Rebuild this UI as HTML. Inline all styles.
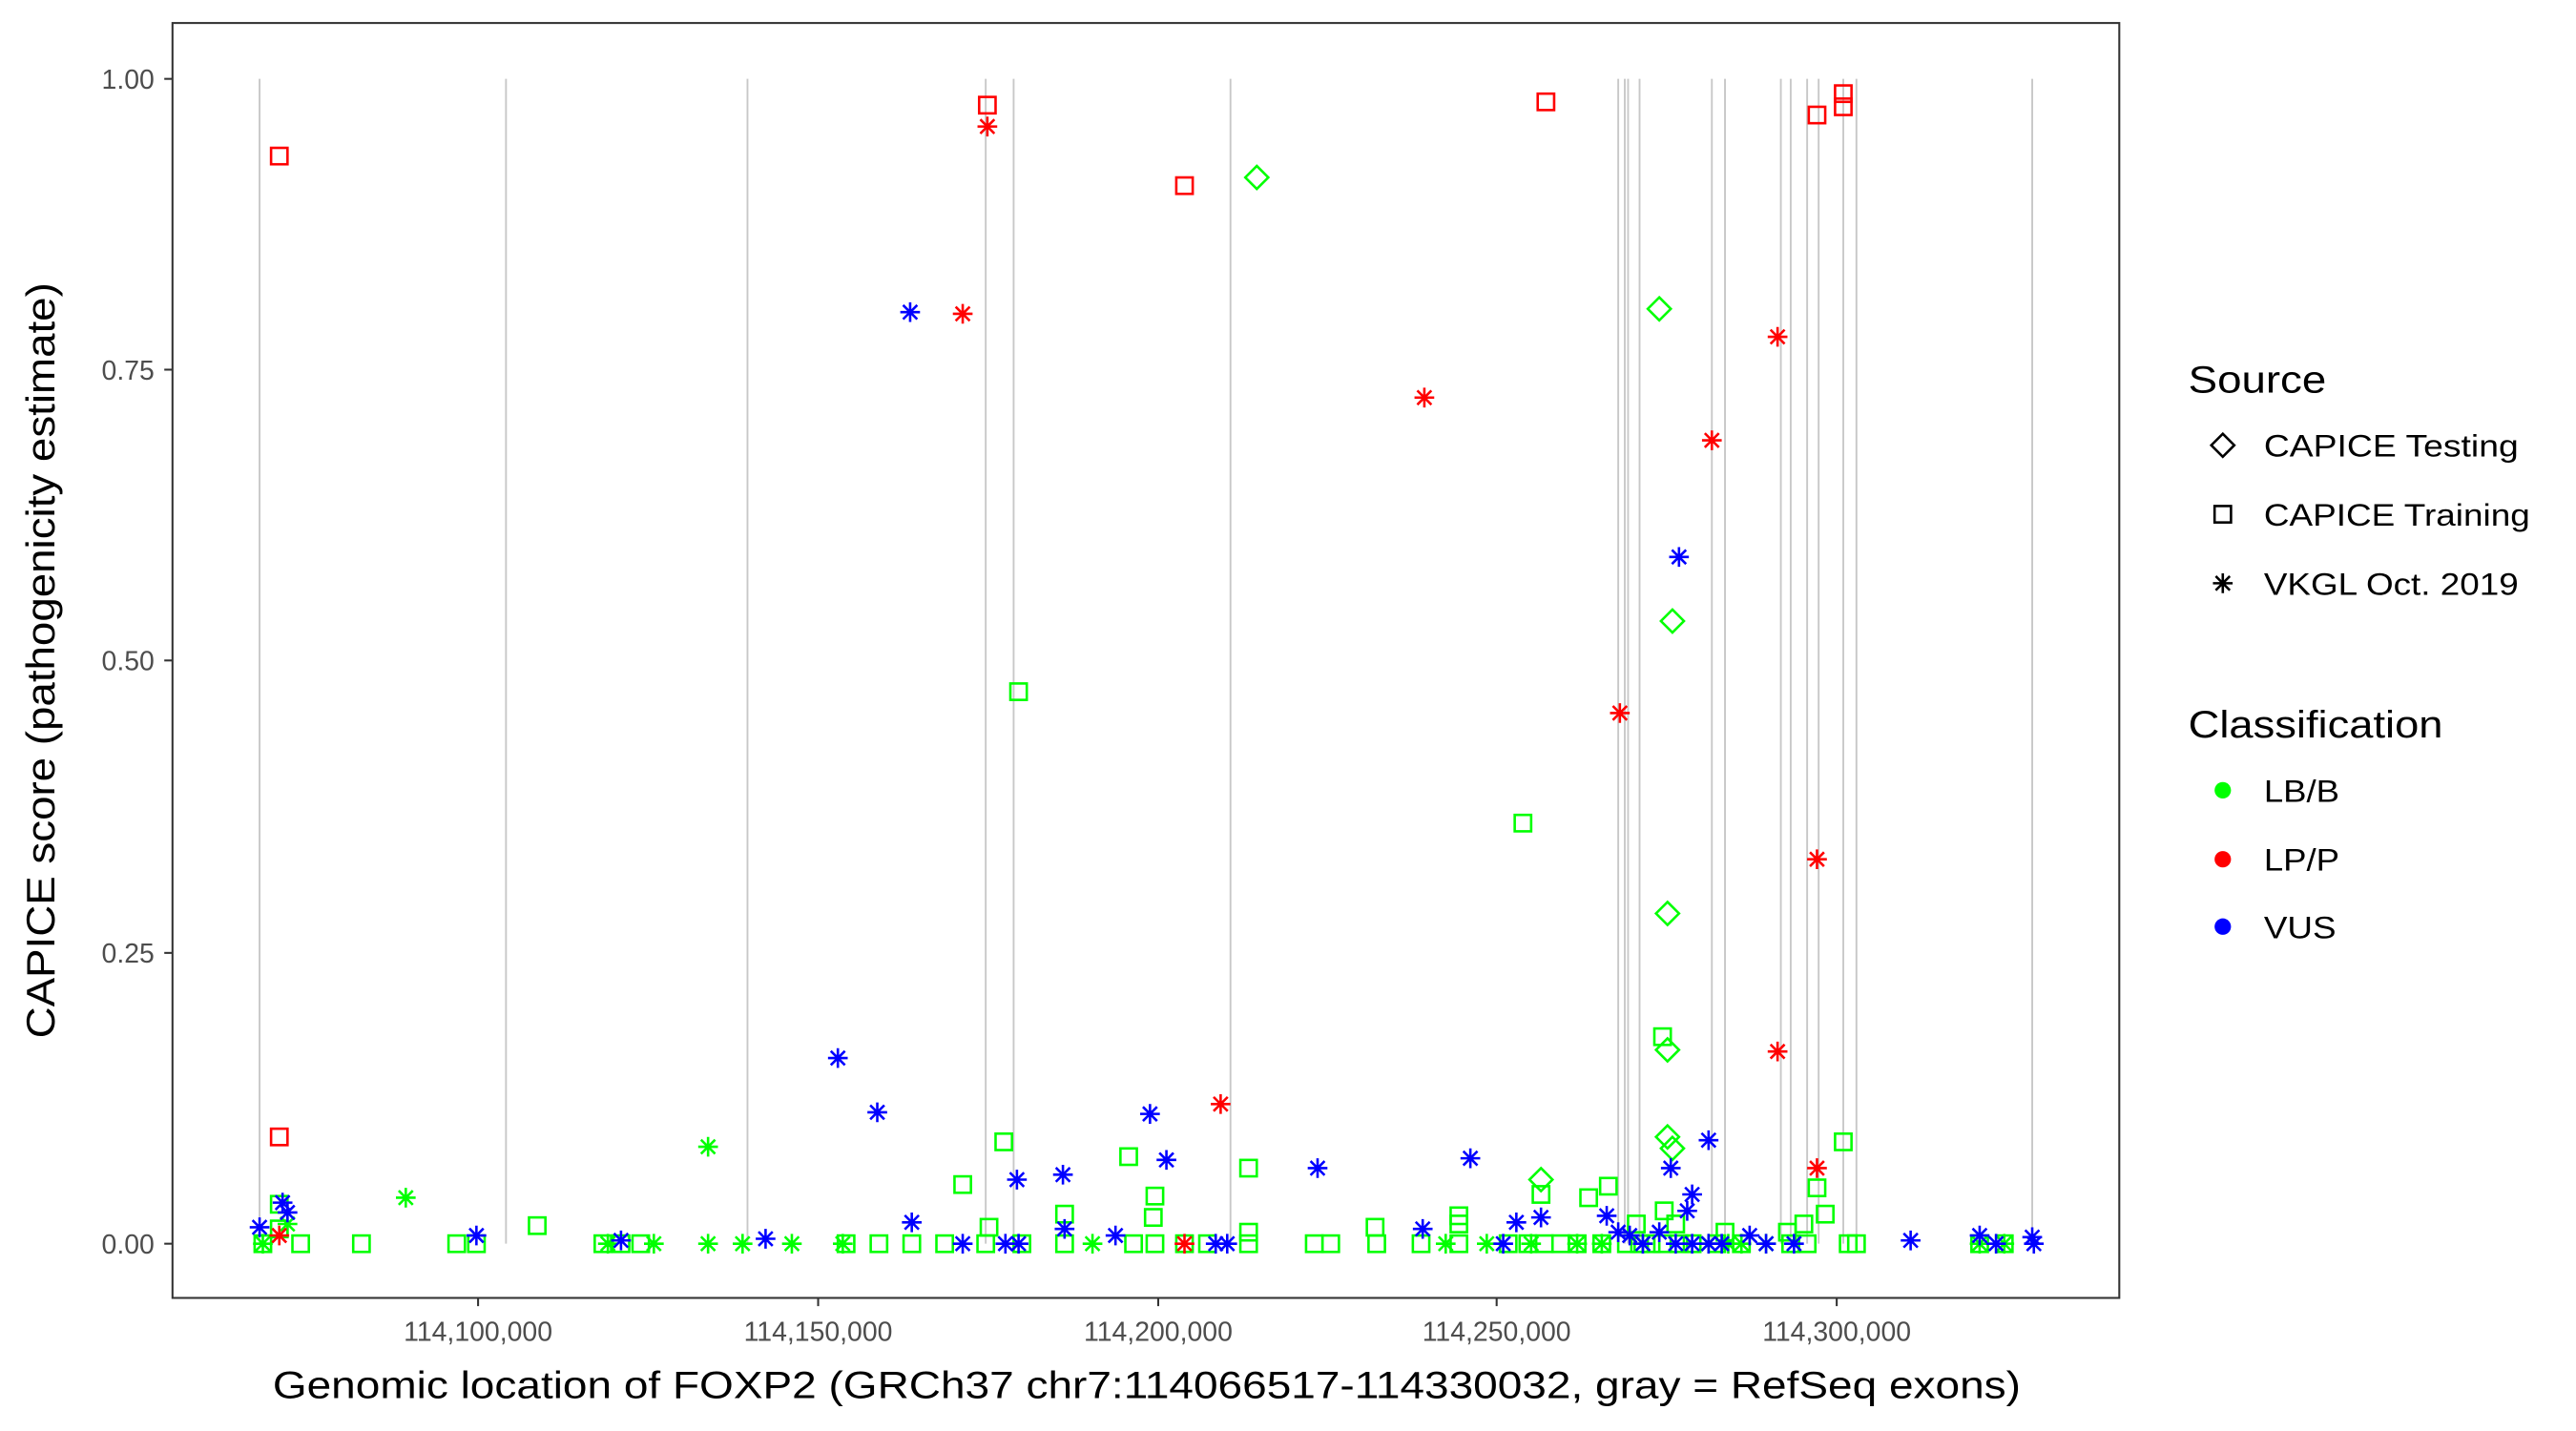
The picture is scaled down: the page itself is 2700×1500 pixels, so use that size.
<!DOCTYPE html>
<html><head><meta charset="utf-8"><style>
html,body{margin:0;padding:0;background:#fff}
svg{display:block}
text{font-family:"Liberation Sans",Arial,sans-serif}
</style></head><body>
<svg id="c" width="2700" height="1500" viewBox="0 0 1568 871" preserveAspectRatio="none" xmlns="http://www.w3.org/2000/svg">
<rect x="0" y="0" width="1568" height="871" fill="#fff"/>
<g id="ex" stroke="#c8c8c8" stroke-width="1.1"></g>
<g id="pts" fill="none" stroke-width="1.5"></g>
<rect x="105" y="14" width="1185" height="776" fill="none" stroke="#333" stroke-width="1.2"/>
<g stroke="#333" stroke-width="1.2">
<line x1="100" x2="105" y1="48" y2="48"/><line x1="100" x2="105" y1="225" y2="225"/><line x1="100" x2="105" y1="402" y2="402"/><line x1="100" x2="105" y1="580" y2="580"/><line x1="100" x2="105" y1="757" y2="757"/>
<line x1="291" x2="291" y1="790" y2="795"/><line x1="498" x2="498" y1="790" y2="795"/><line x1="705" x2="705" y1="790" y2="795"/><line x1="911" x2="911" y1="790" y2="795"/><line x1="1118" x2="1118" y1="790" y2="795"/>
</g>
<g fill="#4d4d4d" font-size="16.5" text-anchor="end">
<text x="94" y="54">1.00</text><text x="94" y="231">0.75</text><text x="94" y="408">0.50</text><text x="94" y="586">0.25</text><text x="94" y="763">0.00</text>
</g>
<g fill="#4d4d4d" font-size="16.5" text-anchor="middle">
<text x="291" y="816">114,100,000</text><text x="498" y="816">114,150,000</text><text x="705" y="816">114,200,000</text><text x="911" y="816">114,250,000</text><text x="1118" y="816">114,300,000</text>
</g>
<text x="166" y="851" font-size="23" textLength="1064" lengthAdjust="spacingAndGlyphs" fill="#000">Genomic location of FOXP2 (GRCh37 chr7:114066517-114330032, gray = RefSeq exons)</text>
<text transform="translate(33,632) rotate(-90)" font-size="24" textLength="460" lengthAdjust="spacingAndGlyphs" fill="#000">CAPICE score (pathogenicity estimate)</text>
<g font-size="23" fill="#000"><text x="1332" y="239" textLength="84" lengthAdjust="spacingAndGlyphs">Source</text><text x="1332" y="449" textLength="155" lengthAdjust="spacingAndGlyphs">Classification</text></g>
<g font-size="19" fill="#000" lengthAdjust="spacingAndGlyphs"><text x="1378" y="278" textLength="155" lengthAdjust="spacingAndGlyphs">CAPICE Testing</text><text x="1378" y="320" textLength="162" lengthAdjust="spacingAndGlyphs">CAPICE Training</text><text x="1378" y="362" textLength="155" lengthAdjust="spacingAndGlyphs">VKGL Oct. 2019</text>
<text x="1378" y="488" textLength="46" lengthAdjust="spacingAndGlyphs">LB/B</text><text x="1378" y="530" textLength="46" lengthAdjust="spacingAndGlyphs">LP/P</text><text x="1378" y="571" textLength="44" lengthAdjust="spacingAndGlyphs">VUS</text></g>
<g id="leg" fill="none" stroke-width="1.5"></g>
<circle cx="1353" cy="481" r="5" fill="#00ff00"/><circle cx="1353" cy="523" r="5" fill="#ff0000"/><circle cx="1353" cy="564" r="5" fill="#0000ff"/>
</svg>
<script>
var NS="http://www.w3.org/2000/svg";
function el(p,t,a){var e=document.createElementNS(NS,t);for(var k in a)e.setAttribute(k,a[k]);p.appendChild(e);return e;}
var ex=document.getElementById('ex');
[158,308,455,600,617,749,985,989,991,998,1042,1050,1084,1090,1100,1107,1122,1130,1237].forEach(function(x){el(ex,'line',{x1:x,x2:x,y1:48,y2:757});});
function mark(g,s,x,y,c){
 if(s=='s')el(g,'rect',{x:x-5,y:y-5,width:10,height:10,stroke:c});
 else if(s=='d')el(g,'path',{d:'M'+x+' '+(y-7)+'L'+(x+7)+' '+y+'L'+x+' '+(y+7)+'L'+(x-7)+' '+y+'Z',stroke:c});
 else{var r=6,q=4.3;el(g,'path',{d:'M'+(x-r)+' '+y+'H'+(x+r)+'M'+x+' '+(y-r)+'V'+(y+r)+'M'+(x-q)+' '+(y-q)+'L'+(x+q)+' '+(y+q)+'M'+(x-q)+' '+(y+q)+'L'+(x+q)+' '+(y-q),stroke:c});}
}
var g=document.getElementById('pts');
var G='#00ff00',R='#ff0000',B='#0000ff';
var green=[['s',620,421],['d',765,108],['d',1010,188],['d',1018,378],['s',927,501],['d',1015,556],['s',1012,631],['d',1015,639],['s',611,695],['d',1015,692],['d',1018,699],['s',1122,695],['a',431,698],['a',247,729],['s',687,704],['s',760,711],['s',586,721],['s',703,728],['s',938,727],['d',938,718],['s',979,722],['s',967,729],['s',1106,723],['s',1111,739],['s',837,747],['s',888,740],['s',888,745],['s',648,739],['s',327,746],['s',170,733],['s',602,747],['s',1013,737],['s',1020,745],['s',996,745],['s',1050,750],['s',1098,745],['s',1088,750],['s',702,741],['s',760,750],['a',175,745],['s',170,748]];
[160,183,220,278,290,367,378,390,515,535,555,575,600,622,648,690,703,721,735,760,800,810,838,865,888,918,930,940,950,960,975,990,998,1005,1012,1022,1030,1045,1060,1090,1100,1125,1130,1205,1220].forEach(function(x,i){green.push(['s',x,757]);});
[160,370,398,431,452,482,513,665,880,905,932,960,975,1000,1040,1052,1060,1075,1205,1220].forEach(function(x){green.push(['a',x,757]);});
var blue=[[554,190],[510,644],[534,677],[700,678],[710,706],[619,718],[647,715],[555,744],[802,711],[895,705],[1022,339],[1040,694],[1017,711],[1030,727],[1027,737],[158,747],[172,732],[175,738],[290,752],[378,755],[466,754],[586,757],[612,757],[620,757],[648,748],[679,752],[740,757],[747,757],[866,748],[915,757],[923,744],[938,741],[978,740],[985,750],[992,752],[1000,757],[1010,750],[1020,757],[1030,757],[1040,757],[1048,757],[1065,752],[1075,757],[1092,757],[1163,755],[1205,752],[1215,757],[1237,753],[1238,757]];
var red=[['s',170,95],['s',170,692],['a',170,752],['s',601,64],['a',601,77],['a',586,191],['s',721,113],['a',743,672],['a',721,757],['a',867,242],['s',941,62],['a',986,434],['a',1042,268],['a',1082,205],['a',1082,640],['s',1106,70],['a',1106,523],['a',1106,711],['s',1122,57],['s',1122,65]];
green.forEach(function(p){mark(g,p[0],p[1],p[2],G);});
blue.forEach(function(p){mark(g,'a',p[0],p[1],B);});
red.forEach(function(p){mark(g,p[0],p[1],p[2],R);});
var L=document.getElementById('leg');
mark(L,'d',1353,271,'#000');mark(L,'s',1353,313,'#000');mark(L,'a',1353,355,'#000');
</script>
</body></html>
